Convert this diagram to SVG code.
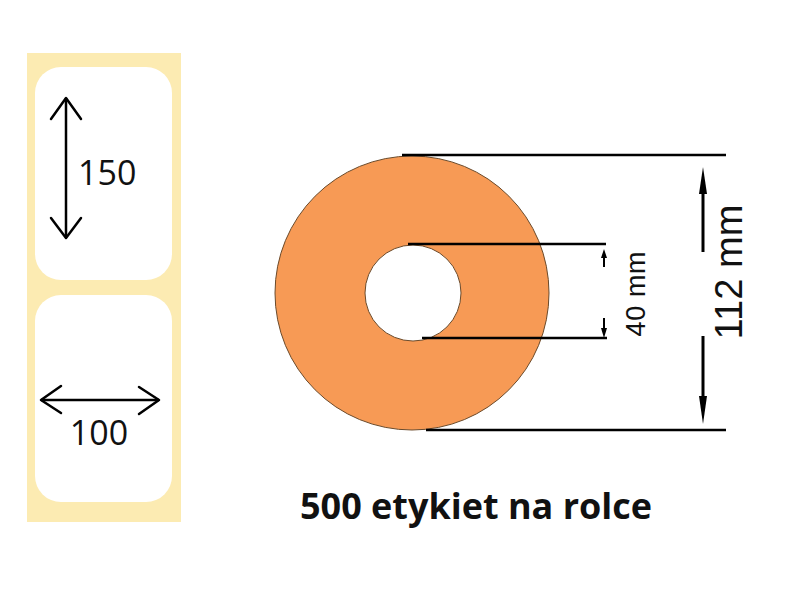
<svg xmlns="http://www.w3.org/2000/svg" width="800" height="590" viewBox="0 0 800 590">
<style>
.dim{stroke:#000;stroke-width:2.5;fill:none}
.chev{stroke:#000;stroke-width:2.5;fill:none;stroke-linecap:round;stroke-linejoin:round}
.lbl{font-family:"Open Sans","Liberation Sans",sans-serif;fill:#111}
.ar{font-family:"Liberation Sans",Arial,sans-serif;fill:#111}
</style>
<rect width="800" height="590" fill="#ffffff"/>
<g id="label-strip">
  <rect x="27" y="53" width="154" height="469" fill="#fcebb2"/>
  <rect x="35" y="67" width="137" height="213" rx="26" fill="#ffffff"/>
  <rect x="35" y="295" width="137" height="207" rx="26" fill="#ffffff"/>
</g>
<g id="height-dim">
  <line class="dim" x1="66" y1="98" x2="66" y2="238"/>
  <polyline class="chev" points="51,119 66,98 81,119"/>
  <polyline class="chev" points="51,218 66,238 81,218"/>
  <text class="lbl" x="78" y="185" font-size="34">150</text>
</g>
<g id="width-dim">
  <line class="dim" x1="41" y1="400" x2="159" y2="400"/>
  <polyline class="chev" points="61,386 41,400 61,413"/>
  <polyline class="chev" points="139,387 159,400 139,414"/>
  <text class="lbl" x="99" y="445" font-size="34" text-anchor="middle">100</text>
</g>
<g id="roll">
  <circle cx="412" cy="293" r="137" fill="#f79a55" stroke="#6b4a2a" stroke-width="1"/>
  <circle cx="413" cy="293" r="48" fill="#ffffff" stroke="#6b4a2a" stroke-width="1"/>
</g>
<g id="connectors">
  <line class="dim" x1="402" y1="155" x2="726" y2="155"/>
  <line class="dim" x1="426" y1="430" x2="726" y2="430"/>
  <line class="dim" x1="408" y1="244" x2="606" y2="244"/>
  <line class="dim" x1="422" y1="338" x2="607" y2="338"/>
  <line stroke="#000" stroke-width="2" x1="604" y1="257" x2="604" y2="267"/>
  <polygon points="604,249 601,258 607,258" fill="#000"/>
  <line stroke="#000" stroke-width="2" x1="604" y1="318" x2="604" y2="329"/>
  <polygon points="604,338 601,328 607,328" fill="#000"/>
  <line stroke="#000" stroke-width="3" x1="703" y1="190" x2="703" y2="252"/>
  <polygon points="703,167 699,194 707,194" fill="#000"/>
  <line stroke="#000" stroke-width="3" x1="703" y1="336" x2="703" y2="398"/>
  <polygon points="703,424 699,396 707,396" fill="#000"/>
</g>
<g id="dim-labels">
  <text class="ar" font-size="27" text-anchor="middle" textLength="85" transform="translate(645,294) rotate(-90)">40 mm</text>
  <text class="ar" font-size="38" text-anchor="middle" textLength="135" transform="translate(742,272) rotate(-90)">112 mm</text>
</g>
<g id="title">
  <text x="476" y="519" font-family="Open Sans, Liberation Sans, sans-serif" font-weight="bold" font-size="36" text-anchor="middle" textLength="352" fill="#111">500 etykiet na rolce</text>
</g>
</svg>
